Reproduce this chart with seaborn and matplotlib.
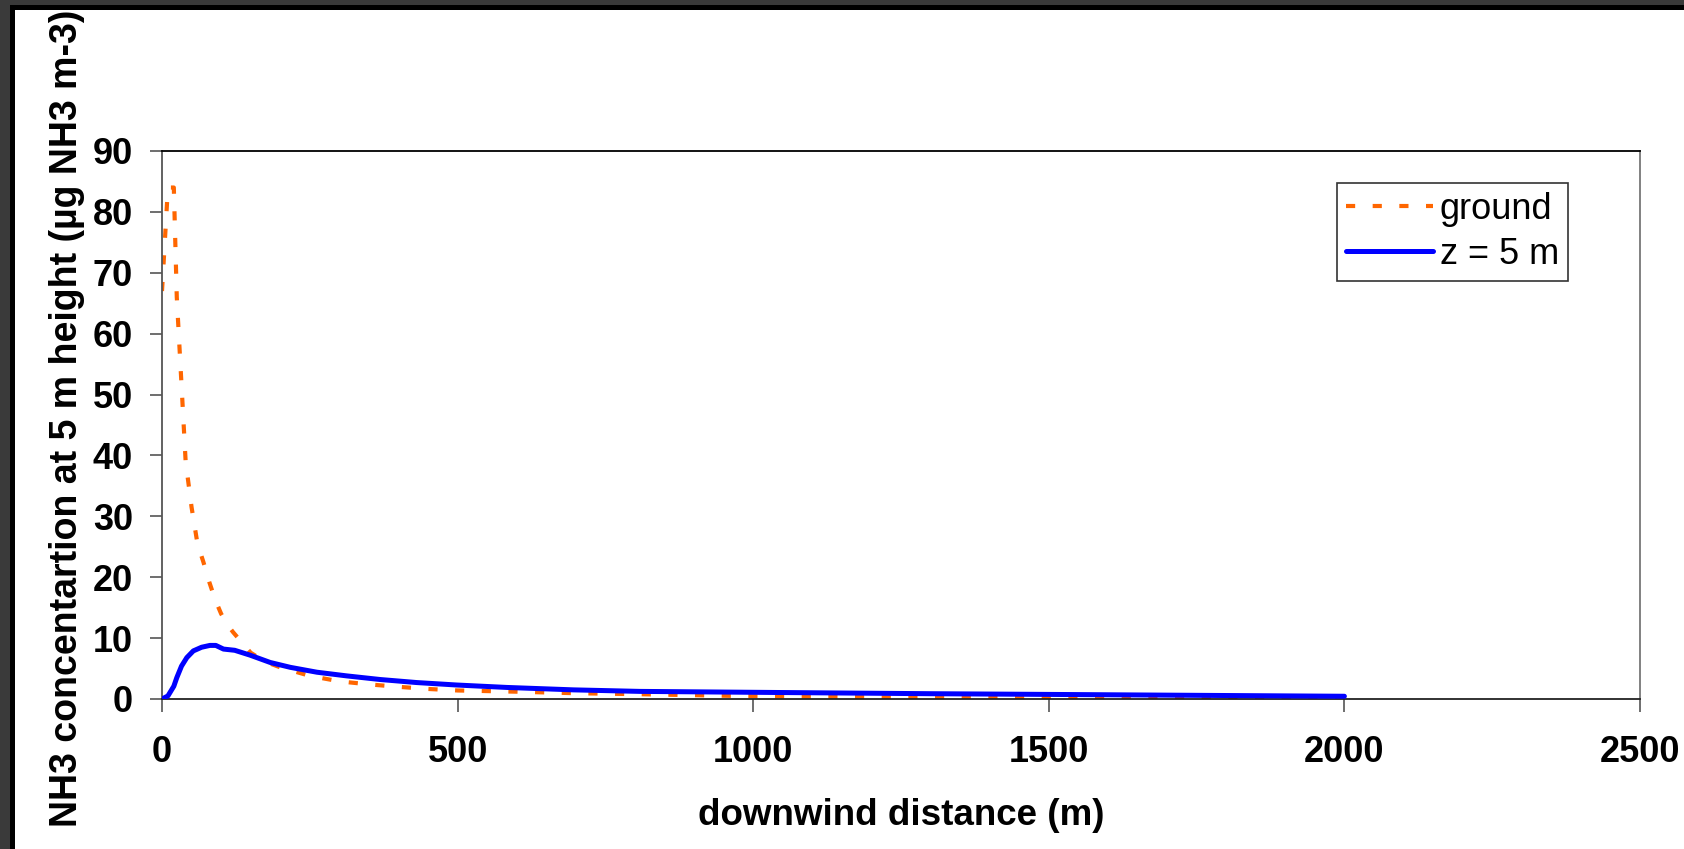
import matplotlib
matplotlib.use("Agg")
import matplotlib.pyplot as plt
import seaborn as sns
import pandas as pd
from matplotlib.patches import Rectangle

# ---- data ----
ground_x = [0, 10, 20, 25, 30, 40, 50, 60, 70, 80, 90, 100, 110, 120, 150, 175, 200,
            250, 300, 350, 400, 450, 500, 600, 700, 800, 1000, 1250, 1500, 1750, 2000]
ground_y = [67, 84, 84, 66, 57, 39, 31.5, 25.5, 22.5, 19.2, 16.3, 14.0, 12.3, 11.0, 7.6, 6.1, 5.2,
            3.8, 2.9, 2.4, 2.0, 1.65, 1.4, 1.2, 0.95, 0.8, 0.45, 0.25, 0.12, 0.07, 0.05]

z5_x = [0, 10, 20, 25, 33, 42, 53, 67, 81, 91, 104, 123, 149, 183, 217, 262, 312, 369,
        431, 498, 583, 696, 808, 1000, 1300, 1590, 2000]
z5_y = [0, 0.5, 2.1, 3.5, 5.4, 6.8, 7.9, 8.5, 8.8, 8.8, 8.2, 8.0, 7.2, 6.0, 5.2, 4.4, 3.8, 3.2,
        2.7, 2.3, 1.9, 1.5, 1.25, 1.1, 0.87, 0.7, 0.45]

series_labels = ["ground", "z = 5 m"]
x_ticks = [0, 500, 1000, 1500, 2000, 2500]
y_ticks = [0, 10, 20, 30, 40, 50, 60, 70, 80, 90]
x_label = "downwind distance (m)"
y_label = "NH3 concentartion at 5 m height (µg NH3 m-3)"

sns.set_style("white")
plt.rcParams["font.family"] = ["Liberation Sans", "DejaVu Sans"]
plt.rcParams["text.color"] = "black"
plt.rcParams["axes.labelcolor"] = "black"
plt.rcParams["xtick.color"] = "black"
plt.rcParams["ytick.color"] = "black"

W, H = 1684, 849
fig = plt.figure(figsize=(W / 100, H / 100), dpi=100)
fig.patch.set_facecolor("white")

# dark frame along top and left edges
fig.add_artist(Rectangle((0, 0), 10 / W, 1, transform=fig.transFigure, color="#3a3a3a", lw=0))
fig.add_artist(Rectangle((0, 1 - 5 / H), 1, 5 / H, transform=fig.transFigure, color="#3a3a3a", lw=0))
fig.add_artist(Rectangle((10 / W, 0), 5 / W, 1 - 5 / H, transform=fig.transFigure, color="black", lw=0))
fig.add_artist(Rectangle((10 / W, 1 - 10 / H), 1, 5 / H, transform=fig.transFigure, color="black", lw=0))

left, right, top, bottom = 162, 1640, 151, 699
ax = fig.add_axes([left / W, 1 - bottom / H, (right - left) / W, (bottom - top) / H])

df_g = pd.DataFrame({"x": ground_x, "y": ground_y})
df_z = pd.DataFrame({"x": z5_x, "y": z5_y})

sns.lineplot(data=df_z, x="x", y="y", ax=ax, color="#0000FF", lw=3.6,
             label=series_labels[1], zorder=3, estimator=None, sort=False)
sns.lineplot(data=df_g, x="x", y="y", ax=ax, color="#FF6600", lw=3.0,
             label=series_labels[0], zorder=2, estimator=None, sort=False)
ax.lines[1].set_dashes((2.2, 4.2))
ax.lines[1].set_dash_capstyle("butt")

ax.set_xlim(0, 2500)
ax.set_ylim(0, 90)
ax.set_xticks(x_ticks)
ax.set_yticks(y_ticks)
ax.set_xticklabels([str(v) for v in x_ticks], fontsize=26, fontweight="bold")
ax.set_yticklabels([str(v) for v in y_ticks], fontsize=26, fontweight="bold")
ax.tick_params(axis="both", direction="out", length=9, width=1.2, color="#555555",
               bottom=True, left=True, labelcolor="black")
ax.tick_params(axis="x", pad=17)
ax.tick_params(axis="y", pad=12)
for s in ax.spines.values():
    s.set_visible(True)
    s.set_linewidth(1.3)
ax.spines["top"].set_color("black")
ax.spines["bottom"].set_color("#222222")
ax.spines["left"].set_color("#555555")
ax.spines["right"].set_color("#777777")

ax.set_xlabel(x_label, fontsize=26.5, fontweight="bold", labelpad=20)
ax.set_ylabel(y_label, fontsize=27, fontweight="bold")
ax.yaxis.set_label_coords(-0.052, 0.512)

h, l = ax.get_legend_handles_labels()
order = [l.index(series_labels[0]), l.index(series_labels[1])]
leg = ax.legend([h[i] for i in order], [l[i] for i in order], loc="upper right",
                bbox_to_anchor=(1 - 72 / 1478, 1 - 32 / 548), fontsize=26,
                frameon=True, fancybox=False, edgecolor="#333333", framealpha=1,
                handlelength=2.4, handletextpad=0.2, borderpad=0.25, labelspacing=0.28,
                borderaxespad=0)
leg.get_frame().set_linewidth(1.2)

fig.savefig("out.png", dpi=100, facecolor="white")
